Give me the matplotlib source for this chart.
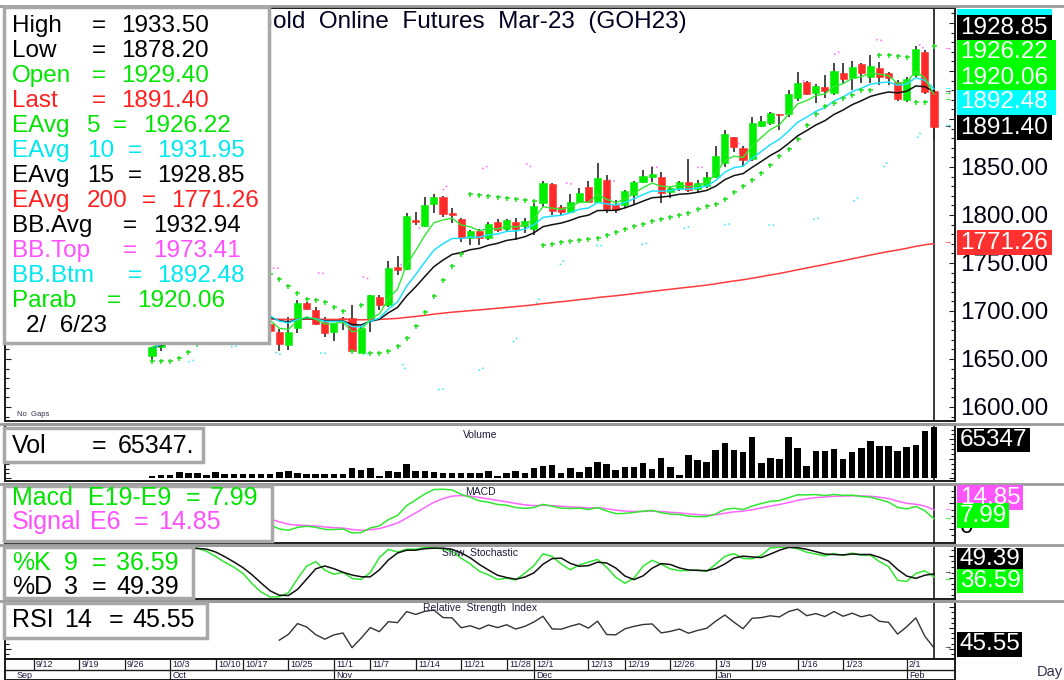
import numpy as np
import pandas as pd
import matplotlib
matplotlib.use("Agg")
import matplotlib.pyplot as plt
from matplotlib.patches import Rectangle
from matplotlib.lines import Line2D
from matplotlib.ticker import MultipleLocator, MaxNLocator, AutoMinorLocator, FuncFormatter

plt.rcParams['font.family'] = ['Liberation Sans', 'DejaVu Sans']

W, H, DPI = 1064, 680, 100

# ---------------- data ----------------
opens = [1653, 1662, 1678, 1702, 1718, 1733, 1738, 1724, 1712, 1708, 1703, 1697, 1690, 1686,
         1677.8, 1664.6, 1682.0, 1708.0, 1701.0, 1688.9, 1677.8, 1693.0, 1693.1, 1656.6,
         1691.7, 1714.2, 1706.3, 1745.5, 1743.4, 1794.8, 1788.6, 1811.1, 1819.1, 1801.7,
         1795.8, 1775.7, 1783.3, 1775.7, 1793.0, 1785.1, 1793.0, 1788.5, 1785.1, 1812.2,
         1832.3, 1808.7, 1803.5, 1813.9, 1828.8, 1813.9, 1836.5, 1810.4, 1810.4, 1820.8,
         1834.7, 1839.9, 1839.9, 1823.6, 1827.1, 1834.7, 1827.1, 1830.2, 1839.9, 1854.5,
         1880.9, 1869.4, 1858.0, 1893.0, 1896.2, 1905.2, 1905.2, 1921.5, 1938.2, 1927.4,
         1933.7, 1926.7, 1947.6, 1942.4, 1956.9, 1943.4, 1953.5, 1947.6, 1938.9, 1919.8,
         1945.8, 1970.1, 1929.4]
highs = [1663, 1682, 1705, 1722, 1738, 1745, 1742, 1730, 1720, 1715, 1710, 1702, 1697, 1692,
         1680.9, 1694.1, 1711.5, 1709.7, 1704.5, 1694.1, 1687.2, 1694.0, 1706.3, 1683.7,
         1716.3, 1716.7, 1752.1, 1757.3, 1801.7, 1803.5, 1819.1, 1821.9, 1820.1, 1807.0,
         1796.5, 1784.4, 1785.1, 1793.0, 1795.5, 1795.8, 1796.5, 1796.5, 1814.6, 1835.8,
         1833.7, 1810.4, 1821.9, 1827.8, 1835.8, 1853.8, 1841.7, 1815.6, 1826.0, 1835.8,
         1846.9, 1849.7, 1845.1, 1829.5, 1835.8, 1858.0, 1836.5, 1845.1, 1871.9, 1888.5,
         1881.6, 1871.9, 1901.7, 1903.1, 1907.6, 1905.2, 1930.2, 1949.3, 1939.6, 1936.4,
         1945.8, 1958.0, 1958.0, 1960.8, 1958.7, 1966.7, 1959.7, 1949.3, 1940.6, 1944.1,
         1976.0, 1971.9, 1933.5]
lows = [1648, 1658, 1675, 1698, 1712, 1725, 1720, 1708, 1702, 1698, 1692, 1686, 1682, 1676,
        1658.7, 1659.4, 1677.4, 1701.0, 1685.4, 1673.3, 1668.7, 1680.0, 1657.6, 1655.9,
        1677.8, 1701.0, 1704.5, 1737.5, 1742.7, 1789.6, 1787.9, 1802.4, 1798.3, 1791.3,
        1772.2, 1768.8, 1768.8, 1774.0, 1782.6, 1782.6, 1774.0, 1780.9, 1779.2, 1808.7,
        1800.0, 1800.0, 1801.7, 1812.2, 1812.2, 1812.2, 1801.7, 1802.4, 1807.0, 1810.4,
        1833.0, 1834.7, 1812.2, 1817.4, 1825.3, 1824.3, 1824.3, 1827.8, 1838.2, 1850.3,
        1866.0, 1849.6, 1856.6, 1891.3, 1893.7, 1888.5, 1901.7, 1919.1, 1925.0, 1917.0,
        1921.5, 1925.0, 1937.1, 1930.2, 1937.1, 1937.1, 1935.4, 1935.4, 1919.1, 1918.0,
        1944.1, 1926.0, 1878.2]
closes = [1662, 1678, 1702, 1718, 1733, 1738, 1724, 1712, 1708, 1703, 1697, 1690, 1686, 1679,
          1665.6, 1678.5, 1708.0, 1701.7, 1686.5, 1676.7, 1687.2, 1692.0, 1658.3, 1682.6,
          1716.3, 1706.3, 1745.1, 1742.7, 1799.3, 1792.4, 1810.1, 1818.4, 1800.7, 1800.0,
          1775.7, 1783.7, 1775.7, 1790.6, 1784.4, 1794.8, 1785.1, 1794.1, 1809.7, 1833.0,
          1804.2, 1803.5, 1813.9, 1822.6, 1813.2, 1838.2, 1805.9, 1805.2, 1825.0, 1834.0,
          1840.6, 1842.7, 1823.3, 1827.8, 1834.7, 1826.0, 1833.7, 1839.5, 1861.4, 1884.0,
          1870.5, 1857.3, 1895.5, 1898.3, 1905.9, 1903.8, 1926.0, 1937.8, 1926.0, 1934.7,
          1929.5, 1950.0, 1941.7, 1953.8, 1947.6, 1955.2, 1944.1, 1942.4, 1920.5, 1941.3,
          1972.6, 1928.5, 1891.4]
volumes = [3400, 4700, 4700, 7700, 6400, 6400, 4300, 8500, 5600, 5600, 5600, 5600, 5600, 5600,
           8100, 9400, 6400, 5600, 5600, 5600, 5600, 5600, 13700, 11100, 13700, 3400, 9800,
           7700, 17900, 9400, 9400, 8500, 6400, 6400, 6400, 6400, 7300, 9400, 3400, 6400,
           9400, 6800, 13200, 15400, 16700, 6800, 13200, 8100, 14500, 20500, 17900, 10700,
           14500, 14500, 19200, 12000, 25600, 14500, 4300, 30300, 23500, 20500, 36700, 44800,
           36700, 34200, 52500, 19200, 25600, 24800, 52500, 38900, 15800, 35400, 35400, 37600,
           24800, 34200, 38900, 47800, 41400, 41400, 35400, 40100, 42700, 60200, 65347]
ema200_seed = 1690.0   # left end of the red 200-day line

day_ticks = [-13, -8, -3, 2, 7, 10, 15, 20, 24, 29, 34, 39, 42, 48, 52, 57, 62, 66, 71, 76, 83]
day_labels = ['9/12', '9/19', '9/26', '10/3', '10/10', '10/17', '10/25', '11/1', '11/7',
              '11/14', '11/21', '11/28', '12/1', '12/13', '12/19', '12/26', '1/3', '1/9',
              '1/16', '1/23', '2/1']
month_ticks = [-15.1, 2, 20, 42, 62, 83]
month_labels = ['Sep', 'Oct', 'Nov', 'Dec', 'Jan', 'Feb']

title = "Gold  Online  Futures  Mar-23  (GOH23)"

K, G, R, C, M = '#000000', '#00e400', '#ff2020', '#00e8f0', '#ff50ff'
legend_labels = ['High', 'Low', 'Open', 'Last', 'EAvg', 'EAvg', 'EAvg', 'EAvg',
                 'BB.Avg', 'BB.Top', 'BB.Btm', 'Parab']
legend_params = ['', '', '', '', '5', '10', '15', '200', '', '', '', '']
legend_values = ['1933.50', '1878.20', '1929.40', '1891.40', '1926.22', '1931.95',
                 '1928.85', '1771.26', '1932.94', '1973.41', '1892.48', '1920.06']
legend_colors = [K, K, G, R, G, C, K, R, K, M, C, G]
legend_date = '2/  6/23'

right_values = ['1931.95', '1928.85', '1926.22', '1920.06', '1892.48', '1891.40', '1771.26']
right_bg = ['#00ffff', '#000000', '#00ff00', '#00ff00', '#00ffff', '#000000', '#ff3030']
arrow_values = [1973.41, 1931.95, 1928.85, 1926.22, 1920.06, 1892.48, 1891.40, 1771.26]
arrow_colors = [M, C, K, G, G, C, K, R]

vol_value = '65347.'
vol_label = '65347'
macd_value, signal_value = '7.99', '14.85'
k_value, d_value = '36.59', '49.39'
rsi_value = '45.55'

# ---------------- indicators from the prices ----------------
o, h, l, c = (np.array(a, float) for a in (opens, highs, lows, closes))
idx = np.arange(len(c))
cs = pd.Series(c)
ema5 = cs.ewm(span=5, adjust=False).mean().values
ema10 = cs.ewm(span=10, adjust=False).mean().values
ema15 = cs.ewm(span=15, adjust=False).mean().values
ema200 = pd.Series(np.r_[ema200_seed, c]).ewm(span=200, adjust=False).mean().values[1:]
bb_mid = cs.rolling(20, min_periods=5).mean()
bb_sd = cs.rolling(20, min_periods=5).std(ddof=0)
bb_top = (bb_mid + 2 * bb_sd).values
bb_btm = (bb_mid - 2 * bb_sd).values


def psar(hi, lo, step=0.02, amax=0.2):
    n = len(hi)
    sar = np.full(n, np.nan)
    bull, af, ep = True, step, hi[0]
    sar[0] = lo[0]
    for i in range(1, n):
        s = sar[i - 1] + af * (ep - sar[i - 1])
        if bull:
            s = min(s, lo[i - 1], lo[max(i - 2, 0)])
            if lo[i] < s:
                bull, s, ep, af = False, ep, lo[i], step
            elif hi[i] > ep:
                ep, af = hi[i], min(af + step, amax)
        else:
            s = max(s, hi[i - 1], hi[max(i - 2, 0)])
            if hi[i] > s:
                bull, s, ep, af = True, ep, hi[i], step
            elif lo[i] < ep:
                ep, af = lo[i], min(af + step, amax)
        sar[i] = s
    return sar


sar = psar(h, l)

macd = (cs.ewm(span=9, adjust=False).mean() - cs.ewm(span=19, adjust=False).mean()).values
signal = pd.Series(macd).ewm(span=6, adjust=False).mean().values

hs, ls = pd.Series(h), pd.Series(l)
ll9 = ls.rolling(9, min_periods=1).min()
hh9 = hs.rolling(9, min_periods=1).max()
fastk = 100 * (cs - ll9) / (hh9 - ll9)
slowk = fastk.rolling(3, min_periods=1).mean().values
slowd = pd.Series(slowk).rolling(3, min_periods=1).mean().values

delta = np.diff(c)
gain, loss = np.clip(delta, 0, None), np.clip(-delta, 0, None)
rsi = np.full(len(c), np.nan)
ag, al = gain[:14].mean(), loss[:14].mean()
rsi[14] = 100 - 100 / (1 + ag / al)
for i in range(15, len(c)):
    ag = (ag * 13 + gain[i - 1]) / 14
    al = (al * 13 + loss[i - 1]) / 14
    rsi[i] = 100 - 100 / (1 + ag / al)

# ---------------- layout ----------------
fig = plt.figure(figsize=(W / DPI, H / DPI), dpi=DPI)
fig.patch.set_facecolor('white')

X0_PX, STEP_PX = 152.0, 9.093
XLIM = ((5 - X0_PX) / STEP_PX, (955 - X0_PX) / STEP_PX)
SPINE = '#1a1a1a'


def add_ax(x0, y0, x1, y1, top_gray=True):
    ax = fig.add_axes([x0 / W, 1 - y1 / H, (x1 - x0) / W, (y1 - y0) / H])
    ax.set_xlim(*XLIM)
    for s in ax.spines.values():
        s.set_color(SPINE)
        s.set_linewidth(1.4)
    if top_gray:
        ax.spines['top'].set_color('#9a9a9a')
        ax.spines['top'].set_linewidth(2.2)
    ax.tick_params(axis='x', which='both', bottom=False, top=False, labelbottom=False)
    ax.tick_params(axis='y', which='both', direction='in', left=True, right=True,
                   labelleft=False, labelright=False, color=SPINE, width=0.8)
    ax.tick_params(axis='y', which='major', length=4)
    ax.tick_params(axis='y', which='minor', length=3)
    return ax


def fline(x0, x1, y, color='#9a9a9a', lw=2.0):
    fig.add_artist(Line2D([x0 / W, x1 / W], [1 - y / H, 1 - y / H], transform=fig.transFigure,
                          color=color, lw=lw, zorder=2))


def ftext(x, y, s, color='k', size=17.5, ha='left', z=6, **kw):
    return fig.text(x / W, 1 - y / H, s, color=color, fontsize=size, ha=ha, va='center',
                    zorder=z, **kw)


def fbox(x0, y0, x1, y1, face, edge='none', lw=0, z=5):
    r = Rectangle((x0 / W, 1 - y1 / H), (x1 - x0) / W, (y1 - y0) / H, transform=fig.transFigure,
                  facecolor=face, edgecolor=edge, lw=lw, zorder=z)
    fig.add_artist(r)
    return r


# ---- main price panel ----
ax = add_ax(5, 8, 955, 421, top_gray=False)
ax.set_ylim(1585.4, 2015.6)
ax.yaxis.set_major_locator(MultipleLocator(50))
ax.yaxis.set_minor_locator(MultipleLocator(10))
ax.yaxis.set_major_formatter(FuncFormatter(lambda v, p: f'{v:.2f}'))
ax.tick_params(axis='y', which='major', labelright=True, labelsize=17.5, pad=4,
               labelcolor='#000010')
ax.axvline(idx[-1], color='#3a3a3a', lw=1.4, zorder=1)

dot_style = (0, (0.8, 1.6, 0.8, 22))
ax.plot(idx, bb_top, color='#ff70ff', lw=1.3, ls=dot_style, zorder=2)
ax.plot(idx, bb_btm, color='#40e8ff', lw=1.3, ls=dot_style, zorder=2)

up = c >= o
col = np.where(up, '#00ee00', '#ff2a2a')
ax.vlines(idx, l, h, color='#2a2a2a', lw=1.2, zorder=3)
ax.bar(idx, np.maximum(np.abs(c - o), 1.2), bottom=np.minimum(o, c), width=0.78,
       color=col, edgecolor=col, lw=0.4, zorder=4)

ax.plot(idx, ema200, color='#ff3a3a', lw=1.1, zorder=5)
ax.plot(idx, ema15, color='#111111', lw=1.1, zorder=5)
ax.plot(idx, ema10, color='#20e0ff', lw=1.1, zorder=5)
ax.plot(idx, ema5, color='#30e830', lw=1.0, zorder=5)
ax.plot(idx, sar, '+', color='#20e020', ms=3.6, mew=1.1, zorder=5)
for v, cc in zip(arrow_values, arrow_colors):
    ax.text(87.45, v, '→', color=cc, fontsize=6, ha='center', va='center', zorder=6)
ax.text(XLIM[0] + 1.3, 1592, 'No  Gaps', fontsize=5.5, color='#303050', ha='left', va='center')

# ---- volume panel ----
axv = add_ax(5, 424, 955, 481)
axv.bar(idx, volumes, width=0.72, color='black', zorder=3)
axv.set_ylim(-0.053 * max(volumes), 1.065 * max(volumes))
axv.yaxis.set_major_locator(MaxNLocator(3))
axv.yaxis.set_minor_locator(AutoMinorLocator(4))
axv.axvline(idx[-1], color='#3a3a3a', lw=1.4, zorder=1)


def autoscale(a, arrays, start, lo_pad, hi_pad):
    vals = np.concatenate([np.asarray(x)[start:] for x in arrays])
    vals = vals[~np.isnan(vals)]
    mn, mx = vals.min(), vals.max()
    r = mx - mn
    a.set_ylim(mn - lo_pad * r, mx + hi_pad * r)


# ---- MACD panel ----
axm = add_ax(5, 484, 955, 543)
axm.plot(idx, signal, color='#ff66ff', lw=1.1, zorder=3)
axm.plot(idx, macd, color='#30e830', lw=1.1, zorder=4)
autoscale(axm, [macd, signal], 13, 0.23, 0.12)
axm.yaxis.set_major_locator(MaxNLocator(3))
axm.yaxis.set_minor_locator(AutoMinorLocator(4))
axm.axvline(idx[-1], color='#3a3a3a', lw=1.4, zorder=1)
axm.text(87.45, float(signal_value), '→', color=M, fontsize=6, ha='center', va='center')
axm.text(87.45, float(macd_value), '→', color=G, fontsize=6, ha='center', va='center')

# ---- Stochastic panel ----
axs = add_ax(5, 545, 955, 599)
axs.plot(idx, slowk, color='#30e830', lw=1.1, zorder=3)
axs.plot(idx, slowd, color='#111111', lw=1.1, zorder=4)
autoscale(axs, [slowk, slowd], 4, 0.04, 0.04)
axs.yaxis.set_major_locator(MaxNLocator(3))
axs.yaxis.set_minor_locator(AutoMinorLocator(4))
axs.axvline(idx[-1], color='#3a3a3a', lw=1.4, zorder=1)
axs.text(87.45, float(d_value), '→', color=K, fontsize=6, ha='center', va='center')
axs.text(87.45, float(k_value), '→', color=G, fontsize=6, ha='center', va='center')

# ---- RSI panel ----
axr = add_ax(5, 601, 955, 659)
axr.plot(idx, rsi, color='#333333', lw=1.0, zorder=3)
autoscale(axr, [rsi], 14, 0.29, 0.21)
axr.yaxis.set_major_locator(MaxNLocator(3))
axr.yaxis.set_minor_locator(AutoMinorLocator(4))
axr.axvline(idx[-1], color='#3a3a3a', lw=1.4, zorder=1)
axr.text(87.45, float(rsi_value), '→', color=K, fontsize=6, ha='center', va='center')

# ---- date axis ----
dax = add_ax(5, 659, 955, 680, top_gray=False)
dax.set_ylim(0, 1)
dax.tick_params(axis='y', which='both', left=False, right=False)
dax.axhline(0.5, color=SPINE, lw=1.0)
for t, lab in zip(day_ticks, day_labels):
    if t > XLIM[0]:
        dax.vlines(t, 0.5, 1, color=SPINE, lw=0.9)
    dax.text(t + 0.25, 0.74, lab, fontsize=6.5, color='#1c1c40', ha='left', va='center')
for j, (t, lab) in enumerate(zip(month_ticks, month_labels)):
    if j > 0:
        dax.vlines(t, 0, 0.5, color=SPINE, lw=0.9)
    dax.text(t + 0.25, 0.22, lab, fontsize=6.5, color='#1c1c40', ha='left', va='center')

# ---- frame lines ----
fline(0, W, 5.5)
for yy in (424, 484, 545, 601):
    fline(0, W, yy)

# ---- panel titles ----
for (yy, s) in ((435, 'Volume'), (492, 'MACD'), (553, 'Slow  Stochastic'),
                (608, 'Relative  Strength  Index')):
    ftext(480, yy, s, color='#1c1c3c', size=7.5, ha='center', z=3)
ftext(1037, 672, 'Day', color='#303050', size=10.5, z=3)

# ---- title (under the legend box) ----
ftext(254, 22, title, color='#000020', size=17.5, z=4)

# ---- main legend box ----
fbox(4, 7, 269, 343, 'white', edge='#a8a8a8', lw=2.5, z=5)
eq_x = [92, 92, 92, 92, 113, 128, 128, 142, 123, 123, 128, 107]
val_x = [121, 121, 121, 121, 143, 157, 157, 171, 153, 153, 157, 137]
for k, (lab, par, val, cc) in enumerate(zip(legend_labels, legend_params, legend_values,
                                            legend_colors)):
    yy = 26.3 + 25 * k
    ftext(12, yy, lab, cc)
    if par:
        ftext(87, yy, par, cc)
    ftext(eq_x[k], yy, '=', cc)
    ftext(val_x[k], yy, val, cc)
ftext(26, 26.3 + 25 * 12, legend_date, K)

# ---- sub-panel legend boxes ----
fbox(4, 428, 203, 462, 'white', edge='#a8a8a8', lw=2.5, z=5)
ftext(12, 446, 'Vol', K, size=18)
ftext(92, 446, '=', K, size=18)
ftext(118, 446, vol_value, K, size=18)

fbox(4, 486, 272, 541, 'white', edge='#a8a8a8', lw=2.5, z=5)
ftext(12, 498, 'Macd', G, size=18)
ftext(88, 498, 'E19-E9', G, size=18)
ftext(186, 498, '=', G, size=18)
ftext(210, 498, macd_value, G, size=18)
ftext(12, 522, 'Signal', M, size=18)
ftext(90, 522, 'E6', M, size=18)
ftext(134, 522, '=', M, size=18)
ftext(158, 522, signal_value, M, size=18)

fbox(4, 547, 193, 598, 'white', edge='#a8a8a8', lw=2.5, z=5)
ftext(12, 563, '%K', G, size=18)
ftext(64, 563, '9', G, size=18)
ftext(92, 563, '=', G, size=18)
ftext(116, 563, k_value, G, size=18)
ftext(12, 587, '%D', K, size=18)
ftext(64, 587, '3', K, size=18)
ftext(92, 587, '=', K, size=18)
ftext(116, 587, d_value, K, size=18)

fbox(4, 603, 207, 638, 'white', edge='#a8a8a8', lw=2.5, z=5)
ftext(12, 620, 'RSI', K, size=18)
ftext(64, 620, '14', K, size=18)
ftext(109, 620, '=', K, size=18)
ftext(132, 620, rsi_value, K, size=18)

# ---- right-hand value boxes ----
boxes_main = [(9, 15, 2.5, 1052), (15, 40, 27.5, 1052), (40, 65, 52.5, 1056),
              (65, 90, 77.5, 1056), (90, 115, 102.5, 1056), (115, 140, 127.5, 1052),
              (230, 255, 242.5, 1052)]
for (y0, y1, ty, x1), val, bg in zip(boxes_main, right_values, right_bg):
    r = fbox(957, y0, x1, y1, bg, z=7)
    t = ftext(960, ty, val, 'white', z=8)
    t.set_clip_path(r)

fbox(957, 428, 1030, 452, '#000000', z=7)
ftext(960, 440, vol_label, 'white', z=8)

ftext(960, 527, '0', K, z=6)
fbox(957, 485, 1023, 510, '#ff55ff', z=7)
ftext(960, 497.5, signal_value, 'white', z=8)
fbox(957, 503, 1009, 528, '#00ff00', z=7)
ftext(960, 515.5, macd_value, 'white', z=8)

fbox(957, 548, 1023, 570, '#000000', z=7)
ftext(960, 559, d_value, 'white', z=8)
fbox(957, 569, 1023, 593, '#00ff00', z=7)
ftext(960, 581, k_value, 'white', z=8)

fbox(957, 632, 1022, 657, '#000000', z=7)
ftext(960, 644.5, rsi_value, 'white', z=8)

fig.savefig('out.png', dpi=DPI, facecolor='white')
